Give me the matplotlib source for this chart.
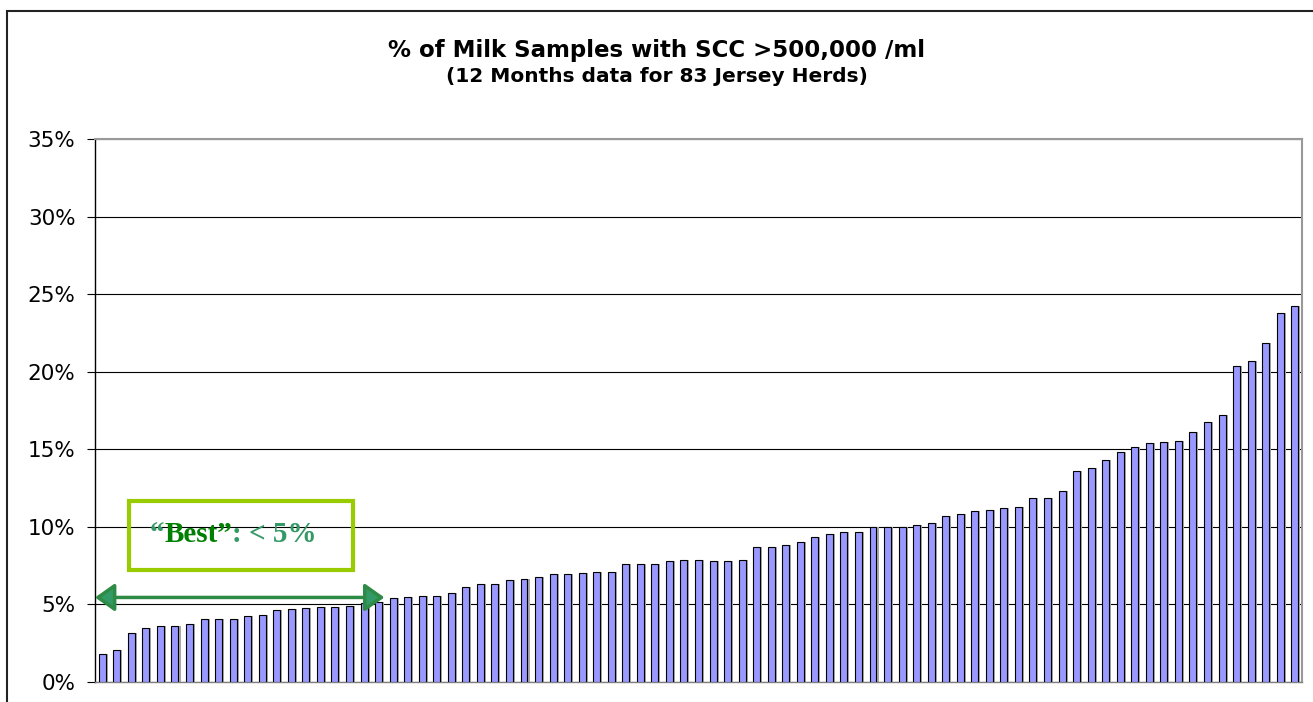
import numpy as np
import matplotlib
matplotlib.use('Agg')
import matplotlib.pyplot as plt
from matplotlib.patches import Rectangle, FancyArrowPatch

# % of samples > 500,000 /ml, one bar per herd, sorted
herd_pct = [1.81, 2.09, 3.17, 3.45, 3.58, 3.64, 3.75, 4.03, 4.07, 4.07,
            4.27, 4.33, 4.61, 4.68, 4.76, 4.81, 4.81, 4.91, 5.06, 5.15,
            5.41, 5.48, 5.53, 5.57, 5.72, 6.11, 6.30, 6.30, 6.56, 6.67,
            6.75, 6.95, 6.99, 7.03, 7.10, 7.10, 7.59, 7.61, 7.61, 7.78,
            7.85, 7.84, 7.83, 7.83, 7.87, 8.73, 8.73, 8.86, 9.03, 9.33,
            9.57, 9.70, 9.70, 9.98, 10.02, 10.02, 10.15, 10.24, 10.71, 10.84,
            10.99, 11.08, 11.21, 11.28, 11.86, 11.88, 12.32, 13.63, 13.77, 14.30,
            14.81, 15.13, 15.40, 15.47, 15.54, 16.12, 16.76, 17.22, 20.38, 20.72,
            21.83, 23.79, 24.22]
y_ticks = [0, 5, 10, 15, 20, 25, 30, 35]
y_tick_labels = ['0%', '5%', '10%', '15%', '20%', '25%', '30%', '35%']
title = '% of Milk Samples with SCC >500,000 /ml'
subtitle = '(12 Months data for 83 Jersey Herds)'
best_limit = 5  # "best" herds are under this

W, H = 1313, 702
fig = plt.figure(figsize=(W / 100, H / 100), dpi=100)
ax = fig.add_axes([95 / W, 20 / H, (1302 - 95) / W, (682 - 139) / H])

x = np.arange(len(herd_pct))
# excel style drop shadow, then the bars
ax.bar(x + 0.14, herd_pct, width=0.48, color='#a8a8a8', linewidth=0, zorder=2)
ax.bar(x, herd_pct, width=0.48, color='#9999FF', edgecolor='black', linewidth=0.8, zorder=3)

ax.set_xlim(-0.5, len(herd_pct) - 0.5)
ax.set_ylim(0, 35)
ax.set_xticks([])
ax.set_yticks(y_ticks)
ax.set_yticklabels(y_tick_labels)
ax.tick_params(axis='y', direction='out', length=6, width=0.8, pad=8, labelsize=15.5)
ax.yaxis.grid(True, color='black', linewidth=0.8)
ax.set_axisbelow(True)

ax.spines['left'].set_color('black')
ax.spines['left'].set_linewidth(1.0)
ax.spines['bottom'].set_color('#808080')
ax.spines['bottom'].set_linewidth(1.0)
for s in ['top', 'right']:
    ax.spines[s].set_color('#999999')
    ax.spines[s].set_linewidth(1.5)

# chart area frame
fig.add_artist(Rectangle((7 / W, -0.05), 1.2, 1 - 11 / H + 0.05, transform=fig.transFigure,
                         fill=False, edgecolor='#222222', linewidth=1.5))

fig.text(657 / W, 1 - 51 / H, title, ha='center', va='center',
         fontsize=16.5, fontweight='bold', family='DejaVu Sans')
fig.text(657 / W, 1 - 77 / H, subtitle, ha='center', va='center',
         fontsize=14.5, fontweight='bold', family='DejaVu Sans')

# "best" box
ax.add_patch(Rectangle((1.84, 7.2), 15.4, 4.45, fill=False, edgecolor='#99CC00',
                       linewidth=3, zorder=5, clip_on=False))
light_green = '#339966'
dark_green = '#008000'
t1 = ax.text(3.28, 9.0, '\u201c', color=light_green, fontsize=21, fontweight='bold',
             family='Liberation Serif', va='baseline', ha='left', zorder=6)
t2 = ax.annotate('Best\u201d', xy=(1, 0), xycoords=t1, va='bottom', ha='left',
                 color=dark_green, fontsize=21, fontweight='bold', family='Liberation Serif', zorder=6)
ax.annotate(': < ' + str(best_limit) + '%', xy=(1, 0), xycoords=t2, va='bottom', ha='left',
            color=light_green, fontsize=21, fontweight='bold', family='Liberation Serif', zorder=6)

arrow = FancyArrowPatch((-0.5, 5.45), (19.4, 5.45),
                        arrowstyle='<|-|>,head_length=1.2,head_width=0.85', mutation_scale=10,
                        linewidth=2.5, facecolor=light_green, edgecolor='#2E8B46',
                        shrinkA=0, shrinkB=0, zorder=6, clip_on=False)
ax.add_patch(arrow)

fig.savefig('out.png', dpi=100)
